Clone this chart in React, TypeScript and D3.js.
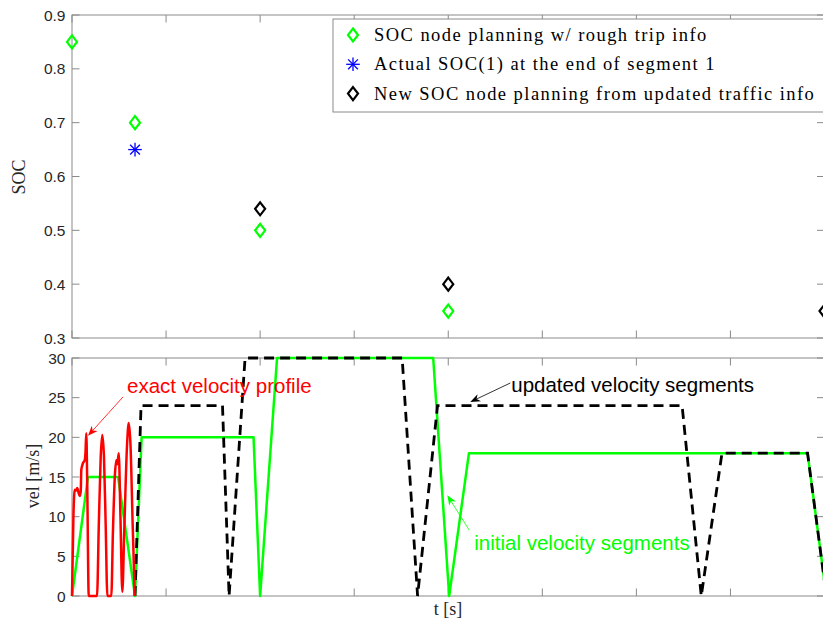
import React from 'react';
import * as d3 from 'd3';

// ---- Data ----
const socNodeT = [0, 67, 200, 400];
const socPlanned = [0.85, 0.7, 0.5, 0.35];
const actualT = [67];
const actualSoc = [0.65];
const newNodeT = [200, 400, 800];
const newSoc = [0.54, 0.4, 0.35];

const initT = [0, 17, 49, 67, 74, 193, 200, 218, 384, 401, 422, 782, 802];
const initV = [0, 15, 15, 0, 20, 20, 0, 30, 30, 0, 18, 18, 0];

const updT = [67, 73.4, 160, 167, 184, 351, 367.4, 388.6, 648.6, 669, 691, 782, 802];
const updV = [0, 24, 24, 0, 30, 30, 0, 24, 24, 0, 18, 18, 0];

const exactT = [0, 1.5, 2.9, 4.5, 5.6, 7, 8.2, 9.3, 9.9, 11, 12.4, 13.5, 14.3, 15.2, 16.2, 17.8, 26.6, 28.5, 30.5, 32.2, 34, 35.8, 37.6, 41.8, 43.5, 45.5, 47.1, 48.2, 49.7, 51.5, 53.5, 55.5, 58.5, 60.3, 62.2, 64.5, 66.7];
const exactV = [0, 10, 13.4, 13.3, 13.6, 13, 12.6, 13.2, 15.9, 16.5, 16.9, 17.1, 18, 20.5, 14, 0, 0, 9, 17.5, 20.3, 17.5, 9, 0, 0, 8, 15, 17.1, 16.6, 18, 10, 0.5, 8, 19, 21.8, 19, 9, 0];

const socTicks = [0.3, 0.4, 0.5, 0.6, 0.7, 0.8, 0.9];
const socTickLabels = ['0.3', '0.4', '0.5', '0.6', '0.7', '0.8', '0.9'];
const velTicks = [0, 5, 10, 15, 20, 25, 30];
const tTicks = [0, 100, 200, 300, 400, 500, 600, 700, 800];

const legendLabels = [
  'SOC node planning w/ rough trip info',
  'Actual SOC(1) at the end of segment 1',
  'New SOC node planning from updated traffic info',
];

const AXIS = '#8a8a8a';
const TXT = '#262626';
const GREEN = '#00ff00';
const BLUE = '#0000ff';
const RED = '#ff0000';

const x = d3.scaleLinear().domain([0, 800]).range([72, 824.5]);
const ySoc = d3.scaleLinear().domain([0.3, 0.9]).range([338, 15]);
const yVel = d3.scaleLinear().domain([0, 30]).range([596, 358]);

const diamond = 'M0,-6.5L5,0L0,6.5L-5,0Z';

function Star({ cx, cy }: { cx: number; cy: number }) {
  const r = 6.8;
  const d = r * 0.72;
  return (
    <g transform={`translate(${cx},${cy})`} stroke={BLUE} strokeWidth={1.3}>
      <line x1={0} y1={-r} x2={0} y2={r} />
      <line x1={-r} y1={0} x2={r} y2={0} />
      <line x1={-d} y1={-d} x2={d} y2={d} />
      <line x1={-d} y1={d} x2={d} y2={-d} />
    </g>
  );
}

function Arrow({ x1, y1, x2, y2, color }: { x1: number; y1: number; x2: number; y2: number; color: string }) {
  const dx = x2 - x1, dy = y2 - y1;
  const len = Math.sqrt(dx * dx + dy * dy);
  const ux = dx / len, uy = dy / len;
  const px = -uy, py = ux;
  const hl = 10, hw = 4;
  const bx = x2 - ux * hl, by = y2 - uy * hl;
  const ix = x2 - ux * hl * 0.7, iy = y2 - uy * hl * 0.7;
  const head = `M${x2},${y2}L${bx + px * hw},${by + py * hw}L${ix},${iy}L${bx - px * hw},${by - py * hw}Z`;
  return (
    <g>
      <line x1={x1} y1={y1} x2={ix} y2={iy} stroke={color} strokeWidth={0.8} />
      <path d={head} fill={color} stroke="none" />
    </g>
  );
}

function Frame({ top, bottom, yTicks, yScale, labels }: any) {
  const left = 72, right = 824.5;
  const tl = 7.5;
  return (
    <g>
      <rect x={left} y={top} width={right - left} height={bottom - top} fill="none" stroke={AXIS} strokeWidth={1} />
      {tTicks.map((t: number, i: number) => (
        <g key={'xt' + i}>
          <line x1={x(t)} x2={x(t)} y1={bottom} y2={bottom - tl} stroke={AXIS} />
          <line x1={x(t)} x2={x(t)} y1={top} y2={top + tl} stroke={AXIS} />
        </g>
      ))}
      {yTicks.map((v: number, i: number) => (
        <g key={'yt' + i}>
          <line x1={left} x2={left + tl} y1={yScale(v)} y2={yScale(v)} stroke={AXIS} />
          <line x1={right} x2={right - tl} y1={yScale(v)} y2={yScale(v)} stroke={AXIS} />
          <text x={65.5} y={yScale(v)} dy="0.36em" textAnchor="end" fontFamily="'Liberation Sans', Arial, sans-serif" fontSize={15.5} fill={TXT}>
            {labels[i]}
          </text>
        </g>
      ))}
    </g>
  );
}

export default function App() {
  const lineGen = d3.line<[number, number]>().x((d) => x(d[0])).y((d) => yVel(d[1]));
  const smoothGen = d3.line<[number, number]>().x((d) => x(d[0])).y((d) => yVel(d[1])).curve(d3.curveMonotoneX);
  const initPts = initT.map((t, i) => [t, initV[i]] as [number, number]);
  const updPts = updT.map((t, i) => [t, updV[i]] as [number, number]);
  const exactPts = exactT.map((t, i) => [t, exactV[i]] as [number, number]);

  const serif = "'Liberation Serif', 'Times New Roman', serif";
  const sans = "'Liberation Sans', Arial, sans-serif";

  return (
    <svg width={823} height={621} style={{ position: 'absolute', left: 0, top: 0, background: '#fff' }}>
      <rect x={0} y={0} width={823} height={621} fill="#fff" />
      {/* Top axes */}
      <Frame top={15} bottom={338} yTicks={socTicks} yScale={ySoc} labels={socTickLabels} />
      {/* Bottom axes */}
      <Frame top={358} bottom={596} yTicks={velTicks} yScale={yVel} labels={velTicks.map(String)} />

      {/* Top markers */}
      {socNodeT.map((t, i) => (
        <path key={'g' + i} d={diamond} transform={`translate(${x(t)},${ySoc(socPlanned[i])})`} fill="none" stroke={GREEN} strokeWidth={2.2} />
      ))}
      {actualT.map((t, i) => (
        <Star key={'s' + i} cx={x(t)} cy={ySoc(actualSoc[i])} />
      ))}
      {newNodeT.map((t, i) => (
        <path key={'b' + i} d={diamond} transform={`translate(${x(t)},${ySoc(newSoc[i])})`} fill="none" stroke="#000" strokeWidth={2.2} />
      ))}

      {/* Legend */}
      <rect x={333} y={19} width={500} height={93} fill="#fff" stroke={AXIS} strokeWidth={1} />
      {legendLabels.map((lab, i) => {
        const cy = 35 + i * 29.3;
        return (
          <g key={'lg' + i}>
            {i === 0 && <path d={diamond} transform={`translate(353,${cy})`} fill="none" stroke={GREEN} strokeWidth={2.2} />}
            {i === 1 && <Star cx={353} cy={cy} />}
            {i === 2 && <path d={diamond} transform={`translate(353,${cy})`} fill="none" stroke="#000" strokeWidth={2.2} />}
            <text x={374} y={cy + 6} fontFamily={serif} fontSize={18.5} letterSpacing={1.45} fill="#000">
              {lab}
            </text>
          </g>
        );
      })}

      {/* Bottom lines */}
      <path d={lineGen(initPts) || ''} fill="none" stroke={GREEN} strokeWidth={2.5} strokeLinejoin="round" />
      <path d={lineGen(updPts) || ''} fill="none" stroke="#000" strokeWidth={2.8} strokeDasharray="10,6" />
      <path d={smoothGen(exactPts) || ''} fill="none" stroke={RED} strokeWidth={2.5} strokeLinejoin="round" />

      {/* Annotations */}
      <Arrow x1={x(54.3)} y1={yVel(25.1)} x2={x(17)} y2={yVel(20.2)} color={RED} />
      <text x={x(58.5)} y={yVel(25.6)} fontFamily={sans} fontSize={20.5} fill={RED}>exact velocity profile</text>
      <Arrow x1={x(466)} y1={yVel(26.85)} x2={x(423.4)} y2={yVel(24.45)} color="#000" />
      <text x={x(467)} y={yVel(25.7)} fontFamily={sans} fontSize={20.5} fill="#000">updated velocity segments</text>
      <Arrow x1={x(422.3)} y1={yVel(8.3)} x2={x(399)} y2={yVel(12.7)} color={GREEN} />
      <text x={x(427.7)} y={yVel(5.8)} fontFamily={sans} fontSize={20.5} fill={GREEN}>initial velocity segments</text>

      {/* Axis labels */}
      <text transform="translate(25,177) rotate(-90)" textAnchor="middle" fontFamily={serif} fontSize={18} fill={TXT}>SOC</text>
      <text transform="translate(39,476) rotate(-90)" textAnchor="middle" fontFamily={serif} fontSize={18} fill={TXT}>vel [m/s]</text>
      <text x={448} y={615} textAnchor="middle" fontFamily={serif} fontSize={18} fill={TXT}>t [s]</text>
    </svg>
  );
}
